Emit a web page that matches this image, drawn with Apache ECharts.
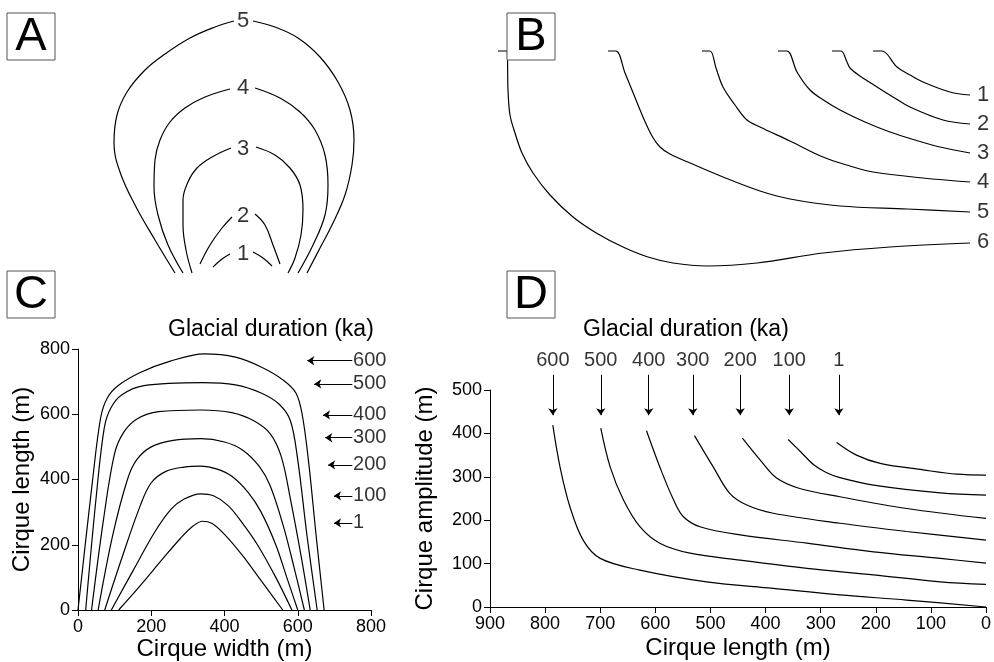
<!DOCTYPE html>
<html><head><meta charset="utf-8">
<script src="https://cdn.jsdelivr.net/npm/echarts@6/dist/echarts.min.js"></script>
<style>html,body{margin:0;padding:0;background:#fff}#c{width:994px;height:662px}</style>
</head><body><div id="c"></div>
<script>
// ---------- Panel A (plan-view outlines, arbitrary units) ----------
const aLabels = ['1','2','3','4','5'];
const aLabelPos = [[143,26],[143,64],[143,131],[143,192],[143,259]];
const a1Left = [[113,13],[122,21],[130,26]];
const a1Right = [[153,28],[163,22],[172,14]];
const a2Left = [[100,16],[110,35],[122,52],[132,63]];
const a2Right = [[155,66],[165,55],[173,35],[180,16]];
const a3Left = [[92,7],[86,30],[83,55],[83,80],[88,98],[97,112],[112,123],[131,132]];
const a3Right = [[156,133],[175,125],[190,112],[200,95],[203,70],[201,45],[195,22],[188,7]];
const a4Left = [[83,7],[68,35],[58,65],[54,93],[55,120],[60,140],[70,158],[85,172],[105,183],[130,191]];
const a4Right = [[155,192],[180,182],[200,168],[215,150],[225,125],[228,95],[225,65],[213,35],[198,7]];
const a5Left = [[75,7],[55,40],[35,75],[20,108],[14,137],[17,165],[27,188],[45,210],[65,226],[90,242],[115,253],[134,259]];
const a5Right = [[153,259],[175,253],[198,242],[220,223],[238,198],[250,170],[254,140],[252,115],[245,85],[232,55],[220,32],[207,7]];

// ---------- Panel B (profiles, arbitrary units) ----------
const bLabels = ['1','2','3','4','5','6'];
const bLabelPos = [[487,185],[487,156],[487,127],[487,98],[487,68],[487,38]];
const b1 = [[383,229],[392,229],[407,213],[420,205],[433,198],[460,188],[480,185]];
const b2 = [[342,229],[351,229],[357,218],[360,212],[370,204],[387,193],[403,183],[420,173],[453,160],[480,156]];
const b3 = [[288,229],[297,229],[307,208],[320,190],[335,179],[350,170],[375,158],[400,148],[425,140],[450,133],[480,127]];
const b4 = [[212,229],[220,229],[226,212],[233,193],[245,175],[257,160],[270,153],[300,139],[333,123],[360,114],[383,108],[433,102],[480,98]];
const b5 = [[118,229],[126,229],[135,207],[144,185],[153,163],[162,144],[170,133],[180,126],[200,117],[233,103],[270,89],[300,81],[350,74],[417,71],[480,68]];
const b6 = [[8,229],[17,229],[18,190],[20,165],[25,147],[32,127],[43,107],[60,85],[83,63],[108,46],[133,33],[158,23],[183,17],[217,14],[267,17],[333,27],[400,33],[480,37]];

// ---------- Panel C: cirque width (m) vs cirque length (m) ----------
const cDurations = ['1','100','200','300','400','500','600'];
const c1 = [[111,0],[170,75],[230,155],[280,220],[315,258],[340,272],[365,266],[400,232],[450,166],[500,90],[559,0]];
const c100 = [[91,0],[150,120],[210,240],[255,310],[290,340],[335,356],[370,350],[410,320],[450,265],[490,200],[540,100],[584,0]];
const c200 = [[73,0],[120,160],[170,320],[200,390],[240,425],[290,438],[335,441],[380,432],[420,410],[465,360],[500,300],[540,200],[570,100],[600,0]];
const c300 = [[55,0],[95,230],[135,400],[160,460],[200,500],[260,520],[335,525],[400,515],[450,490],[495,440],[525,380],[560,260],[590,130],[618,0]];
const c400 = [[37,0],[70,280],[100,480],[125,545],[160,585],[220,608],[335,613],[420,605],[480,580],[525,540],[555,470],[580,340],[610,160],[634,0]];
const c500 = [[21,0],[50,350],[72,560],[90,620],[120,660],[180,688],[340,697],[430,690],[500,665],[550,630],[580,580],[600,460],[625,230],[653,0]];
const c600 = [[0,0],[40,400],[62,590],[80,650],[110,688],[170,728],[250,762],[345,785],[430,775],[500,745],[560,705],[595,665],[612,600],[630,450],[650,230],[672,0]];
const cArrowHeadX = [699,699,683,675,669,645,626];
const cArrowTailX = 749;
const cArrowY = [267,350,445,528,598,693,764];
const cLabelX = 751;

// ---------- Panel D: cirque length (m) vs cirque amplitude (m) ----------
const dDurations = ['1','100','200','300','400','500','600'];
const d1 = [[271,379],[235,350],[192,331],[114,316],[53,306],[0,304]];
const d100 = [[359,386],[335,356],[312,327],[290,310],[265,298],[204,281],[83,263],[0,258]];
const d200 = [[442,389],[410,339],[380,297],[338,273],[265,254],[144,227],[0,204]];
const d300 = [[529,395],[495,323],[465,262],[434,235],[386,216],[265,193],[144,174],[0,154]];
const d400 = [[616,406],[592,323],[567,247],[549,208],[519,185],[446,166],[325,147],[204,127],[83,112],[0,101]];
const d500 = [[699,412],[682,323],[658,247],[628,185],[592,147],[537,124],[446,108],[325,89],[204,74],[83,58],[0,52]];
const d600 = [[786,419],[773,323],[755,231],[731,154],[700,112],[628,85],[507,58],[386,43],[265,28],[144,16],[0,0]];
const dArrowX = [267,357,446,532,612,699,786];
const dArrowTopY = 535;
const dArrowBottomY = 442;
const dLabelY = 569;

const FONT = '"Liberation Sans", Arial, sans-serif';
const chart = echarts.init(document.getElementById('c'));

function curve(data, gi, smooth) {
  return {type:'line', xAxisIndex:gi, yAxisIndex:gi, data:data, symbol:'none', smooth:smooth,
    lineStyle:{color:'#000', width:1.2}, silent:true, z:3};
}
function labels(points, texts, gi, pos, size) {
  return {type:'scatter', xAxisIndex:gi, yAxisIndex:gi, symbolSize:0, clip:false, silent:true,
    data: points.map((p,i)=>({value:p, label:{formatter:texts[i]}})),
    label:{show:true, position:pos, distance:0, color:'#000', fontSize:size, fontFamily:FONT}};
}

const axisBase = {
  axisLine:{show:true, onZero:false, lineStyle:{color:'#000', width:1}},
  axisTick:{show:true, length:6, lineStyle:{color:'#000'}},
  axisLabel:{color:'#000', fontSize:18, fontFamily:FONT, margin:8},
  splitLine:{show:false},
  nameTextStyle:{color:'#000', fontSize:24, fontFamily:FONT},
  nameLocation:'middle'
};

const series = [];
[[a1Left,a1Right],[a2Left,a2Right],[a3Left,a3Right],[a4Left,a4Right],[a5Left,a5Right]].forEach(pr=>{
  series.push(curve(pr[0],0,0.4)); series.push(curve(pr[1],0,0.4));
});
series.push(labels(aLabelPos, aLabels, 0, 'inside', 22));
[b1,b2,b3,b4,b5,b6].forEach(d=>series.push(curve(d,1,0.35)));
series.push(labels(bLabelPos, bLabels, 1, 'right', 22));
[c1,c100,c200,c300,c400,c500,c600].forEach(d=>series.push(curve(d,2,0.35)));
series.push({type:'lines', coordinateSystem:'cartesian2d', xAxisIndex:2, yAxisIndex:2, clip:false, silent:true,
  symbol:['none','arrow'], symbolSize:7, lineStyle:{color:'#000', width:1, opacity:1},
  data: cArrowY.map((y,i)=>({coords:[[cArrowTailX,y],[cArrowHeadX[i],y]]}))});
series.push(labels(cArrowY.map(y=>[cLabelX,y]), cDurations, 2, 'right', 20));
[d1,d100,d200,d300,d400,d500,d600].forEach(d=>series.push(curve(d,3,0.35)));
series.push({type:'lines', coordinateSystem:'cartesian2d', xAxisIndex:3, yAxisIndex:3, clip:false, silent:true,
  symbol:['none','arrow'], symbolSize:7, lineStyle:{color:'#000', width:1, opacity:1},
  data: dArrowX.map(x=>({coords:[[x,dArrowTopY],[x,dArrowBottomY]]}))});
series.push(labels(dArrowX.map(x=>[x,dLabelY]), dDurations, 3, 'inside', 20));

function box(letter, x, y) {
  return [
    {type:'rect', shape:{x:x, y:y, width:48, height:47}, style:{fill:'#fff', stroke:'#555', lineWidth:1}, z:10},
    {type:'text', z:11, x:x + 24, y:y + 24,
      style:{text:letter, font:'47px ' + FONT, fill:'#000', align:'center', verticalAlign:'middle',
             textAlign:'center', textVerticalAlign:'middle'}}
  ];
}

chart.setOption({
  animation:false,
  backgroundColor:'#fff',
  grid:[
    {left:100, top:0, width:300, height:280},
    {left:490, top:0, width:504, height:280},
    {left:78, top:349, width:293, height:261},
    {left:490, top:390, width:496, height:217}
  ],
  xAxis:[
    {gridIndex:0, type:'value', min:0, max:300, show:false},
    {gridIndex:1, type:'value', min:0, max:504, show:false},
    Object.assign({}, axisBase, {gridIndex:2, type:'value', min:0, max:800, interval:200, name:'Cirque width (m)', nameGap:26}),
    Object.assign({}, axisBase, {gridIndex:3, type:'value', min:0, max:900, interval:100, inverse:true, name:'Cirque length (m)', nameGap:29})
  ],
  yAxis:[
    {gridIndex:0, type:'value', min:0, max:280, show:false},
    {gridIndex:1, type:'value', min:0, max:280, show:false},
    Object.assign({}, axisBase, {gridIndex:2, type:'value', min:0, max:800, interval:200, name:'Cirque length (m)', nameGap:44}),
    Object.assign({}, axisBase, {gridIndex:3, type:'value', min:0, max:500, interval:100, name:'Cirque amplitude (m)', nameGap:53})
  ],
  graphic:[].concat(
    box('A', 7, 13), box('B', 507, 13), box('C', 7, 271), box('D', 507, 271),
    [{type:'text', left:168, top:318, style:{text:'Glacial duration (ka)', font:'23px ' + FONT, fill:'#000'}},
     {type:'text', left:583, top:318, style:{text:'Glacial duration (ka)', font:'23px ' + FONT, fill:'#000'}}]
  ),
  series:series
});
</script></body></html>
